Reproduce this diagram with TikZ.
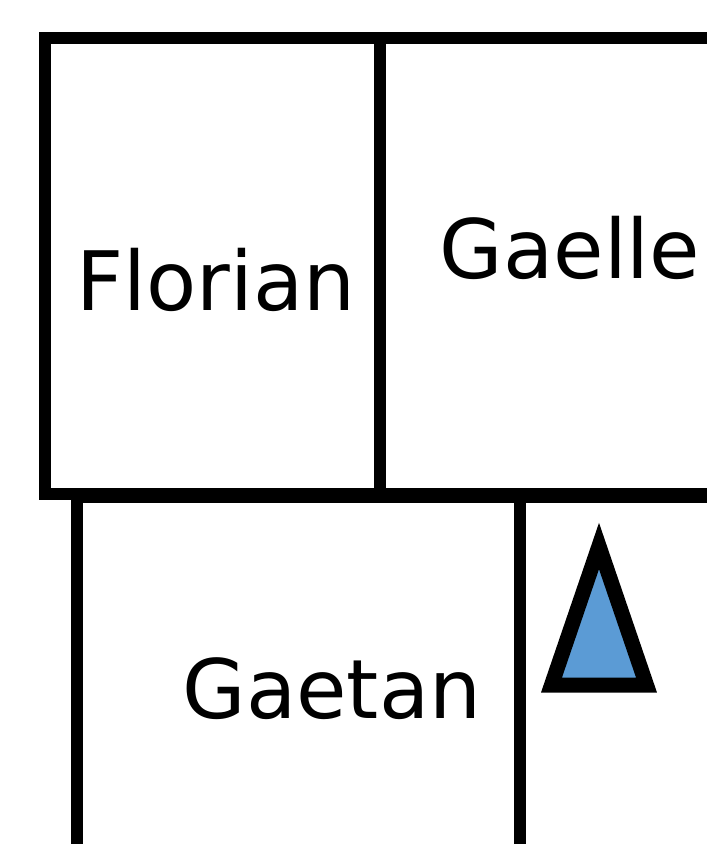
\documentclass[tikz,border=0pt]{standalone}
\usepackage{fontspec}
\setmainfont{DejaVu Sans}
\definecolor{triblue}{HTML}{5B9BD5}

\begin{document}
\begin{tikzpicture}[
    x=1pt, y=-1pt,
    box/.style={rectangle, draw, line width=12pt, inner sep=0pt, outer sep=0pt},
    nametext/.style={font=\fontsize{82}{96}\selectfont, anchor=base, inner sep=0pt},
    marker/.style={draw, line width=15pt, fill=triblue, miter limit=10}
]

\useasboundingbox (0,0) rectangle (707,844);
\clip (0,0) rectangle (707,844);

% top row
\node[box, minimum width=335pt, minimum height=456pt] (florian) at (212.5,266) {};
\node[box, minimum width=380pt, minimum height=456pt] (gaelle) at (570,266) {};

% bottom row
\node[box, minimum width=443pt, minimum height=400pt] (gaetan) at (298.5,697) {};
\node[box, minimum width=380pt, minimum height=400pt] (next) at (710,697) {};

\node[nametext] (florianname) at (216,310) {Florian};
\node[nametext] (gaellename) at (570,278) {Gaelle};
\node[nametext] (gaetanname) at (332,718) {Gaetan};

\coordinate (tip) at (599,546);
\draw[marker] (tip) -- (646.5,685) -- (551.5,685) -- cycle;

\end{tikzpicture}
\end{document}
